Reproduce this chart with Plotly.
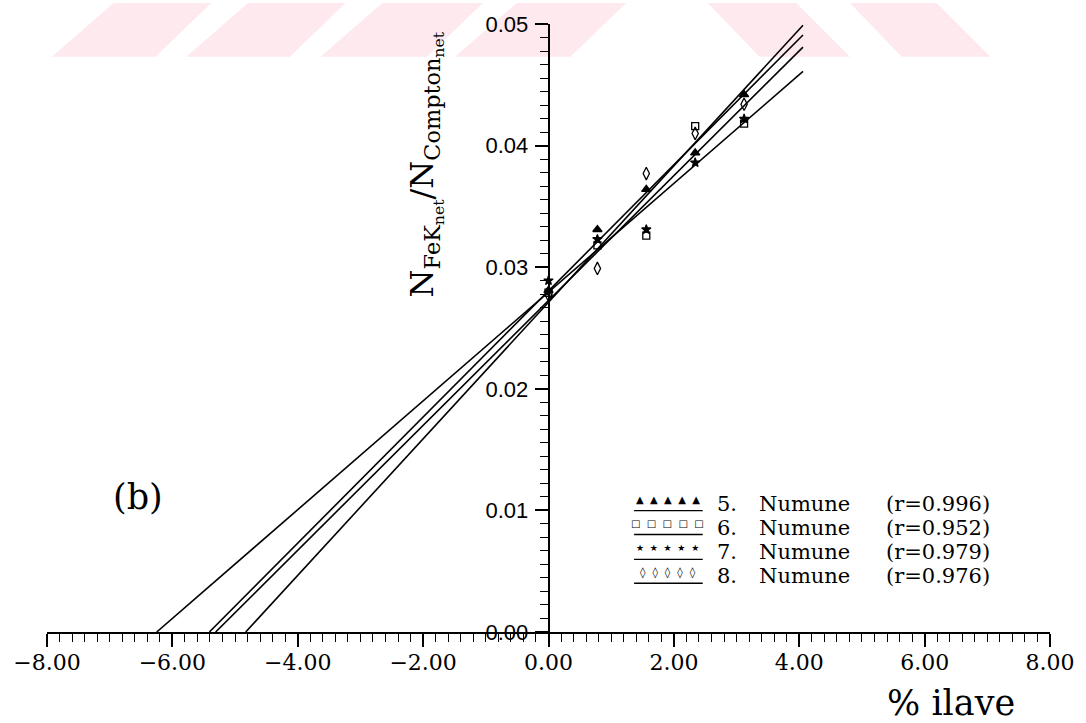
import plotly.graph_objects as go

# ---- data ----
ilave = [0.0, 0.78, 1.56, 2.34, 3.12]          # % ilave (x)
numune5 = [0.0281, 0.0331, 0.0364, 0.0394, 0.0442]
numune6 = [0.0279, 0.0318, 0.0326, 0.0416, 0.0418]
numune7 = [0.0289, 0.0323, 0.0331, 0.0386, 0.0422]
numune8 = [0.0277, 0.0299, 0.0377, 0.0410, 0.0434]

series_numbers = ["5.", "6.", "7.", "8."]
series_word = "Numune"
r_values = ["(r=0.996)", "(r=0.952)", "(r=0.979)", "(r=0.976)"]

# regression lines as drawn: x-intercept and value at the right end
fit_x0 = [-5.41, -5.31, -6.25, -4.83]
fit_x1 = 4.06
fit_y1 = [0.0491, 0.0481, 0.0461, 0.0499]

x_ticks = [-8, -6, -4, -2, 0, 2, 4, 6, 8]
y_ticks = [0.0, 0.01, 0.02, 0.03, 0.04, 0.05]

# ---- layout geometry (pixels) ----
W, H = 1086, 723
L, R, T, B = 47, 31, 21, 91
PW, PH = W - L - R, H - T - B


def px(p):
    return (p - L) / PW


def py(p):
    return (H - B - p) / PH


symbols = ["triangle-up", "square-open", "star", "diamond-tall-open"]
sizes = [8, 7, 7, 9]
values = [numune5, numune6, numune7, numune8]

fig = go.Figure()
for i in range(4):
    fig.add_trace(go.Scatter(
        x=[fit_x0[i], fit_x1], y=[0, fit_y1[i]], mode="lines",
        line=dict(color="black", width=1.6), showlegend=False, hoverinfo="skip"))
for i in range(4):
    fig.add_trace(go.Scatter(
        x=ilave, y=values[i], mode="markers", name=f"{series_numbers[i]} {series_word}",
        marker=dict(symbol=symbols[i], size=sizes[i], color="black",
                    line=dict(color="black", width=1.3)),
        showlegend=False))

# ---- watermark bands ----
pink = "rgb(253,233,238)"
shapes = []
left_bands = [(52, 156), (187, 291), (322, 429), (457, 573)]
for a, b in left_bands:
    path = (f"M {px(a)} {py(54)} L {px(b)} {py(54)} L {px(b + 56)} {py(0)} "
            f"L {px(a + 62)} {py(0)} Z")
    shapes.append(dict(type="path", path=path, xref="paper", yref="paper",
                       fillcolor=pink, line=dict(width=0), layer="below"))
right_bands = [(711, 800), (854, 941)]
for a, b in right_bands:
    path = (f"M {px(a)} {py(0)} L {px(b)} {py(0)} L {px(b + 54)} {py(54)} "
            f"L {px(a + 52)} {py(54)} Z")
    shapes.append(dict(type="path", path=path, xref="paper", yref="paper",
                       fillcolor=pink, line=dict(width=0), layer="below"))

# ---- custom legend ----
glyph_chars = ["▲", "□", "★", "◊"]
glyph_sizes = [10, 10, 9, 11]
sep = "\u00a0\u00a0"
row_y = [503, 527, 552, 576]
text_font = dict(family="DejaVu Serif", size=21, color="black")
annotations = []
for i in range(4):
    yc = row_y[i]
    annotations.append(dict(
        x=px(671), y=py(yc - 4), xref="paper", yref="paper", showarrow=False,
        text=sep.join([glyph_chars[i]] * 5),
        font=dict(family="DejaVu Sans", size=glyph_sizes[i], color="black"),
        xanchor="center", yanchor="middle"))
    shapes.append(dict(type="line", xref="paper", yref="paper",
                       x0=px(637), x1=px(706), y0=py(yc + 7), y1=py(yc + 7),
                       line=dict(color="black", width=1.3)))
    annotations.append(dict(
        x=px(718), y=py(yc), xref="paper", yref="paper", showarrow=False,
        text=series_numbers[i], font=text_font,
        xanchor="left", yanchor="middle"))
    annotations.append(dict(
        x=px(761), y=py(yc), xref="paper", yref="paper", showarrow=False,
        text=series_word, font=text_font,
        xanchor="left", yanchor="middle"))
    annotations.append(dict(
        x=px(888), y=py(yc), xref="paper", yref="paper", showarrow=False,
        text=r_values[i], font=text_font,
        xanchor="left", yanchor="middle"))

# y-axis title
annotations.append(dict(
    x=px(427), y=py(162), xref="paper", yref="paper", showarrow=False,
    text="N<sub>FeK<sub>net</sub></sub>/N<sub>Compton<sub>net</sub></sub>",
    textangle=-90, font=dict(family="DejaVu Serif", size=32, color="black"),
    xanchor="center", yanchor="middle"))
# x-axis title
annotations.append(dict(
    x=px(956), y=py(703), xref="paper", yref="paper", showarrow=False,
    text="% ilave", font=dict(family="DejaVu Serif", size=35, color="black"),
    xanchor="center", yanchor="middle"))
# panel label
annotations.append(dict(
    x=px(138), y=py(496), xref="paper", yref="paper", showarrow=False,
    text="(b)", font=dict(family="DejaVu Serif", size=35, color="black"),
    xanchor="center", yanchor="middle"))

fig.update_layout(
    width=W, height=H,
    margin=dict(l=L, r=R, t=T, b=B, pad=0),
    paper_bgcolor="white", plot_bgcolor="rgba(0,0,0,0)",
    showlegend=False,
    shapes=shapes, annotations=annotations,
    xaxis=dict(range=[-8, 8], tickvals=x_ticks, tickformat=".2f",
               showgrid=False, zeroline=False, showline=True,
               linecolor="black", linewidth=1.5,
               ticks="outside", ticklen=13, tickwidth=1.5, tickcolor="black",
               ticklabelstandoff=-3,
               tickfont=dict(family="DejaVu Serif", size=22, color="black"),
               minor=dict(dtick=0.2, tick0=0, ticks="outside", ticklen=8,
                          tickwidth=1.3, tickcolor="black", showgrid=False)),
    yaxis=dict(range=[0, 0.05], tickvals=y_ticks, tickformat=".2f",
               anchor="free", position=0.5,
               showgrid=False, zeroline=False, showline=True,
               linecolor="black", linewidth=1.5,
               ticks="outside", ticklen=13, tickwidth=1.5, tickcolor="black",
               ticklabelstandoff=2,
               tickfont=dict(family="Liberation Sans", size=22, color="black"),
               minor=dict(dtick=0.01 / 9, tick0=0, ticks="outside", ticklen=8,
                          tickwidth=1.3, tickcolor="black", showgrid=False)),
)

fig.write_html("out.html")
